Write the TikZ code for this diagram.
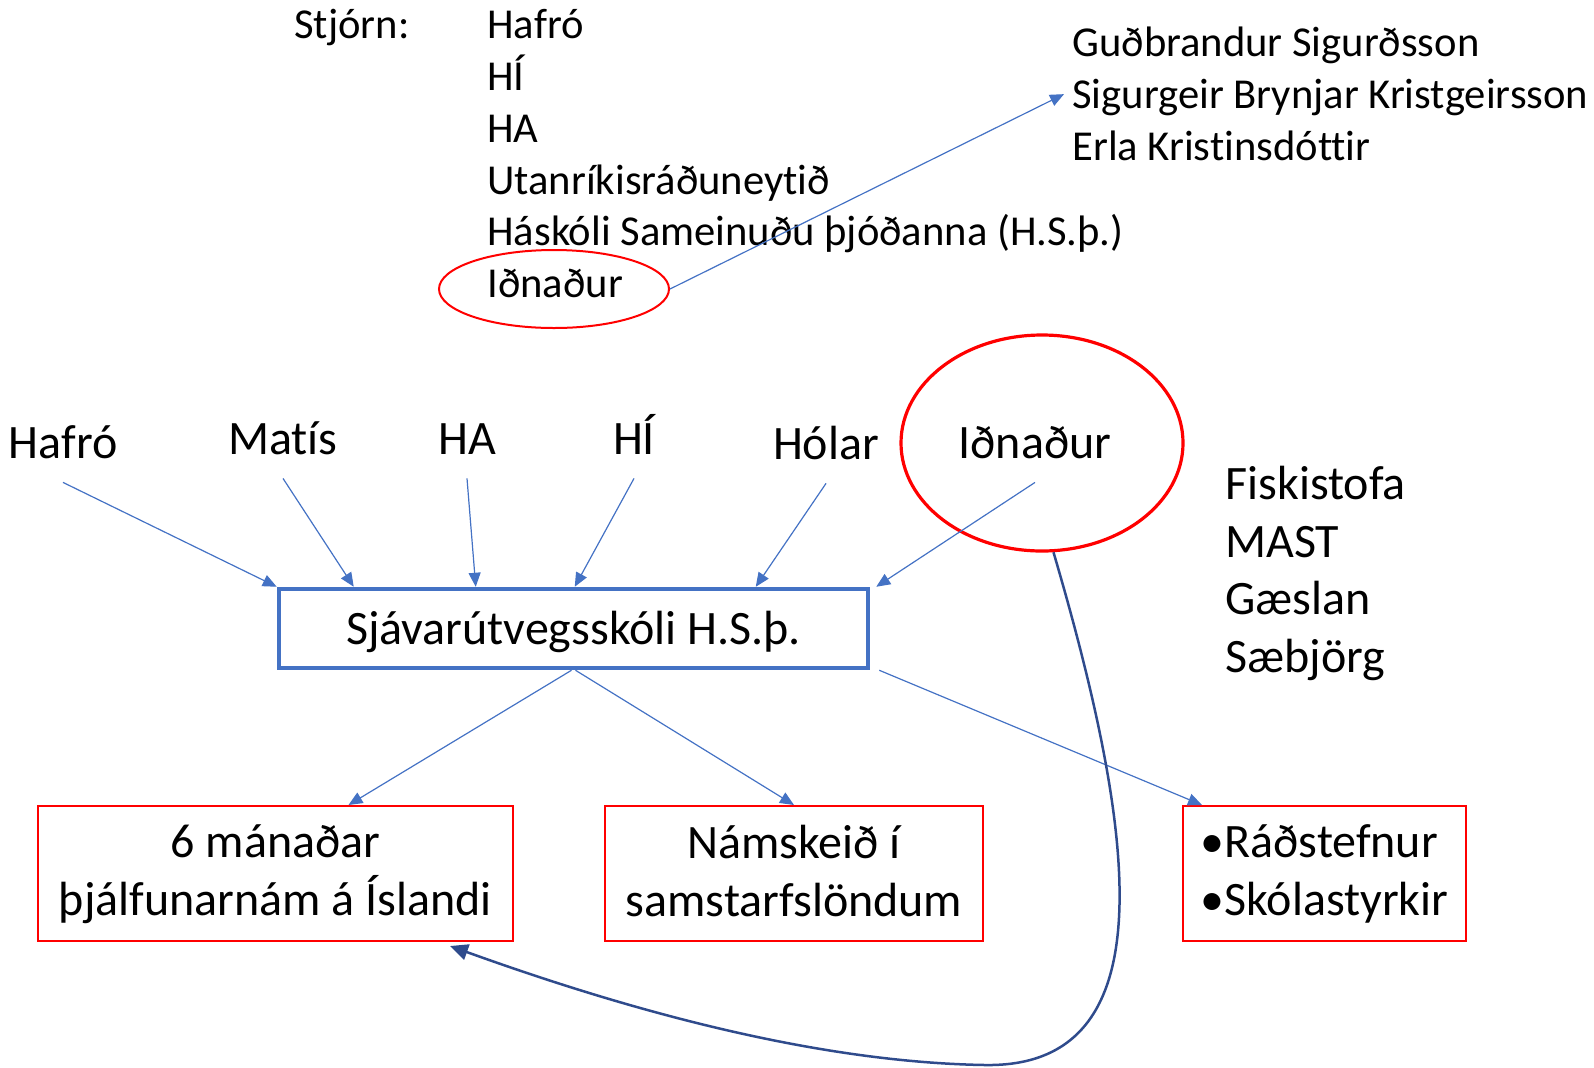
\documentclass[tikz,border=0pt]{standalone}
\usepackage{fontspec}
\setmainfont{Carlito}[Ligatures=NoCommon]
\usetikzlibrary{arrows.meta,shapes.geometric}
\definecolor{linkblue}{HTML}{4472C4}
\definecolor{loopnavy}{HTML}{2F4B8C}

\begin{document}
\begin{tikzpicture}[x=0.5pt,y=-0.5pt,
  link/.style={linkblue,line width=0.6pt,-{Triangle[length=7pt,width=6pt]}},
  listtext/.style={align=left,anchor=north west,inner sep=0pt,font=\fontsize{21.3}{25.9}\selectfont},
  src/.style={font=\fontsize{24}{28}\selectfont,text height=15pt,text depth=5pt,inner ysep=7pt},
  outbox/.style={draw=red,line width=1pt,align=center,minimum height=67.5pt,inner sep=0pt,text depth=3pt,font=\fontsize{24}{29}\selectfont},
  ]
  \useasboundingbox (0,0) rectangle (1594,1067);
  % board and the people
  \node[listtext] (board) at (294,9) {Stjórn:};
  \node[listtext] (members) at (487,9) {Hafró\\HÍ\\HA\\Utanríkisráðuneytið\\Háskóli Sameinuðu þjóðanna (H.S.þ.)\\Iðnaður};
  \node[listtext,inner xsep=4pt] (people) at (1064,27) {Guðbrandur Sigurðsson\\Sigurgeir Brynjar Kristgeirsson\\Erla Kristinsdóttir};
  \node[ellipse,draw=red,line width=1pt,minimum width=115pt,minimum height=39pt,inner sep=0pt] (ring1) at (554,289) {};
  \draw[link] (ring1.east) -- (people.west);

  % the partners
  \node[src] (hafro) at (63,448) {Hafró};
  \node[src] (matis) at (283,444) {Matís};
  \node[src] (ha) at (467,444) {HA};
  \node[src] (hi) at (634,444) {HÍ};
  \node[src] (holar) at (826,449) {Hólar};
  \node[src] (idn) at (1035,448) {Iðnaður};
  \node[ellipse,draw=red,line width=1.6pt,minimum width=141pt,minimum height=108pt,inner sep=0pt] (ring2) at (1042,443) {};
  \node[listtext,font=\fontsize{24}{28.8}\selectfont] (agencies) at (1225,466) {Fiskistofa\\MAST\\Gæslan\\Sæbjörg};

  \node[draw=linkblue,line width=2.25pt,minimum width=294.5pt,minimum height=39.5pt,inner sep=0pt,text depth=1pt,font=\fontsize{24}{28}\selectfont] (school) at (573.5,628.5) {Sjávarútvegsskóli H.S.þ.};

  \draw[link] (hafro.south) -- (school.north west);
  \draw[link] (matis.south) -- ([xshift=38.5pt]school.north west);
  \draw[link] (ha.south) -- ([xshift=99.5pt]school.north west);
  \draw[link] (hi.south) -- ([xshift=149pt]school.north west);
  \draw[link] (holar.south) -- ([xshift=239.5pt]school.north west);
  \draw[link] (idn.south) -- ([xshift=3pt]school.north east);

  % what the school does
  \node[outbox,minimum width=237.5pt] (box1) at (275.5,873.5) {6 mánaðar\\þjálfunarnám á Íslandi};
  \node[outbox,minimum width=189pt] (box2) at (794,873.5) {Námskeið í\\samstarfslöndum};
  \node[outbox,minimum width=141.5pt,align=left] (box3) at (1324.5,873.5) {•Ráðstefnur\\•Skólastyrkir};

  \draw[link] ([xshift=-1pt]school.south) -- ([xshift=36.5pt]box1.north);
  \draw[link] ([xshift=1pt]school.south) -- (box2.north);
  \draw[link] ([xshift=4.5pt]school.south east) -- ([xshift=10pt]box3.north west);

  \draw[loopnavy,line width=1.25pt,-{Triangle[length=9pt,width=8pt]}] (ring2.-84) .. controls (1135,830) and (1170,1068) .. (985,1065) .. controls (800,1062) and (600,1000) .. ([xshift=-32pt,yshift=-2pt]box1.south east);
\end{tikzpicture}
\end{document}
